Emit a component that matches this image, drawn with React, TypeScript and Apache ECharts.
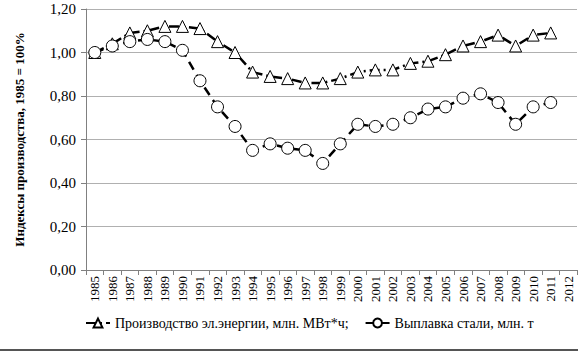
import React, { useEffect, useRef } from "react";
import * as echarts from "echarts";

const years = ["1985","1986","1987","1988","1989","1990","1991","1992","1993","1994","1995","1996","1997","1998","1999","2000","2001","2002","2003","2004","2005","2006","2007","2008","2009","2010","2011","2012"];
const electricity = [1.00,1.04,1.09,1.10,1.12,1.12,1.11,1.05,1.00,0.91,0.89,0.88,0.86,0.86,0.88,0.91,0.92,0.92,0.95,0.96,0.99,1.03,1.05,1.08,1.03,1.08,1.09,null];
const steel = [1.00,1.03,1.05,1.06,1.05,1.01,0.87,0.75,0.66,0.55,0.58,0.56,0.55,0.49,0.58,0.67,0.66,0.67,0.70,0.74,0.75,0.79,0.81,0.77,0.67,0.75,0.77,null];
const seriesNames = ["Производство эл.энергии, млн. МВт*ч;", "Выплавка стали, млн. т"];
const yName = "Индексы производства, 1985 = 100%";

const FONT = "Times New Roman, Liberation Serif, DejaVu Serif, serif";

export default function App() {
  const ref = useRef<HTMLDivElement>(null);
  useEffect(() => {
    const chart = echarts.init(ref.current!, null, { renderer: "svg" });
    chart.setOption({
      animation: false,
      textStyle: { fontFamily: FONT, color: "#000" },
      grid: { left: 86, right: 1, top: 9, bottom: 83 },
      legend: {
        bottom: 18,
        left: 80,
        itemWidth: 24,
        itemHeight: 11,
        itemGap: 16,
        textStyle: { fontFamily: FONT, fontSize: 14, color: "#000" },
        data: seriesNames,
      },
      xAxis: {
        type: "category",
        data: years,
        boundaryGap: true,
        axisLine: { lineStyle: { color: "#808080", width: 1 } },
        axisTick: { show: true, alignWithLabel: false, length: 5, lineStyle: { color: "#808080" } },
        axisLabel: { rotate: 90, fontFamily: FONT, fontSize: 13, color: "#000", margin: 6, interval: 0 },
      },
      yAxis: {
        type: "value",
        min: 0,
        max: 1.2,
        interval: 0.2,
        name: yName,
        nameLocation: "middle",
        nameGap: 60,
        nameRotate: 90,
        nameTextStyle: { fontFamily: FONT, fontSize: 13, fontWeight: "bold", color: "#000" },
        axisLine: { show: true, lineStyle: { color: "#808080" } },
        axisTick: { show: true, length: 5, lineStyle: { color: "#808080" } },
        splitLine: { lineStyle: { color: "#b0b0b0", width: 1 } },
        axisLabel: {
          fontFamily: FONT,
          fontSize: 15,
          color: "#000",
          margin: 10,
          formatter: (v: number) => v.toFixed(2).replace(".", ","),
        },
      },
      series: [
        {
          name: seriesNames[0],
          type: "line",
          data: electricity,
          symbol: "triangle",
          symbolSize: 12,
          showAllSymbol: true,
          lineStyle: { color: "#000", width: 2.5, type: [10, 4, 2, 4] },
          itemStyle: { color: "#fff", borderColor: "#000", borderWidth: 1 },
        },
        {
          name: seriesNames[1],
          type: "line",
          data: steel,
          symbol: "circle",
          symbolSize: 12,
          showAllSymbol: true,
          lineStyle: { color: "#000", width: 2.5, type: [9, 6] },
          itemStyle: { color: "#fff", borderColor: "#000", borderWidth: 1 },
        },
      ],
      graphic: [
        {
          type: "line",
          shape: { x1: 0, y1: 350, x2: 578, y2: 350 },
          style: { stroke: "#555", lineWidth: 2 },
        },
      ],
    });
    return () => chart.dispose();
  }, []);
  return <div ref={ref} style={{ width: 578, height: 353, position: "fixed", left: 0, top: 0, background: "#fff" }} />;
}
